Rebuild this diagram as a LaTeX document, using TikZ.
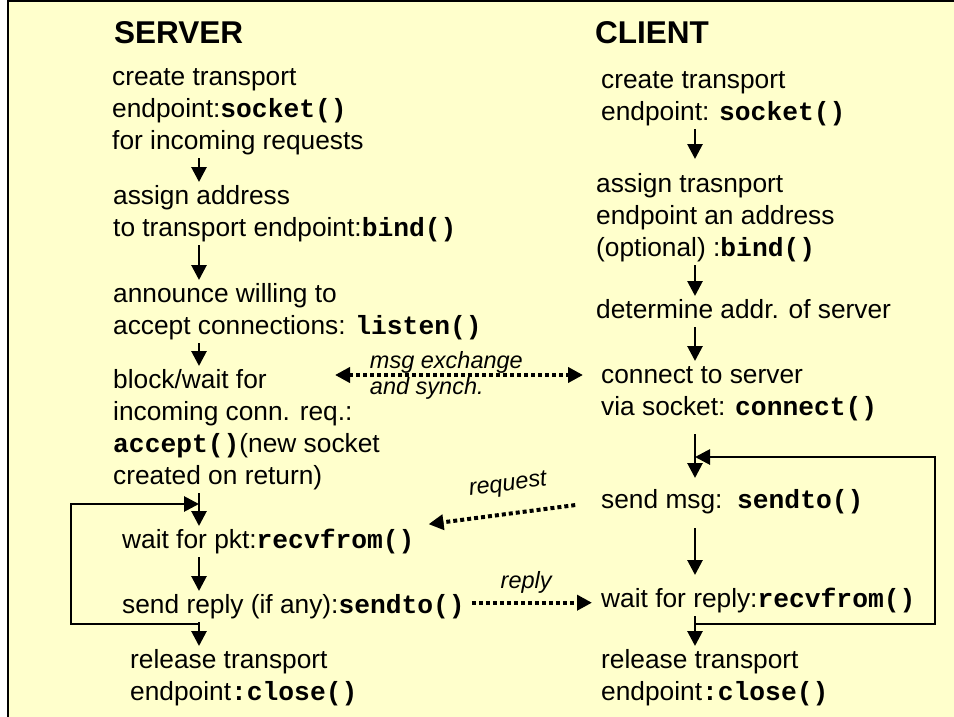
\documentclass[tikz,border=0pt]{standalone}
\usepackage{fontspec}
\setmainfont{Liberation Sans}
\newfontfamily\codefont{Liberation Mono}
\usetikzlibrary{arrows.meta,positioning}
\definecolor{paper}{RGB}{255,255,204}
\newcommand{\fcall}[1]{{\codefont\bfseries #1}}
\newcommand{\upstrut}{\rule{0pt}{22pt}}
\newcommand{\downstrut}{\rule[-9pt]{0pt}{9pt}}

\begin{document}
\begin{tikzpicture}[
  x=1pt, y=-1pt,
  >={Triangle[length=15pt,width=15pt]},
  stage/.style={anchor=north west, inner sep=0pt, align=left, font=\fontsize{26.3}{32}\selectfont},
  head/.style={anchor=base west, inner sep=0pt, font=\fontsize{31.5}{36}\selectfont\bfseries},
  flow/.style={->, line width=2.8pt},
  msg/.style={->, line width=4pt, dash pattern=on 4pt off 3pt},
  lbl/.style={inner sep=0pt, align=left, font=\fontsize{23.5}{26}\selectfont\itshape},
]
\useasboundingbox (0,0) rectangle (954,717);

% Slide frame (cut off at right and bottom)
\begin{scope}
  \clip (0,0) rectangle (954,717);
  \draw[line width=2.5pt, fill=paper] (8,1.25) rectangle (980,740);
\end{scope}

% Columns for the down arrows and the loops
\coordinate (scol)  at (199,0);
\coordinate (ccol)  at (695,0);
\coordinate (sback) at (71,0);
\coordinate (cback) at (935,0);

% Server side
\node[head]  (srv) at (114,44)  {SERVER};
\node[stage] (s1)  at (112,63)  {\upstrut create transport\\endpoint:\fcall{socket()}\\for incoming requests\downstrut};
\node[stage] (s2)  at (113,182) {\upstrut assign address\\to transport endpoint:\fcall{bind()}\downstrut};
\node[stage] (s3)  at (113,280) {\upstrut announce willing to\\accept connections: \fcall{listen()}\downstrut};
\node[stage] (s4)  at (113,366) {\upstrut block/wait for\\incoming conn. req.:\\\fcall{accept()}(new socket\\created on return)\downstrut};
\node[stage] (s5)  at (122,526) {\upstrut wait for pkt:\fcall{recvfrom()}\downstrut};
\node[stage] (s6)  at (122,591) {\upstrut send reply (if any):\fcall{sendto()}\downstrut};
\node[stage] (s7)  at (130,646) {\upstrut release transport\\endpoint\fcall{:close()}\downstrut};

% Client side
\node[head]  (cli) at (595,44)  {CLIENT};
\node[stage] (c1)  at (601,66)  {\upstrut create transport\\endpoint: \fcall{socket()}\downstrut};
\node[stage] (c2)  at (596,170) {\upstrut assign trasnport\\endpoint an address\\(optional) :\fcall{bind()}\downstrut};
\node[stage] (c3)  at (596,296) {\upstrut determine addr. of server\downstrut};
\node[stage] (c4)  at (601,361) {\upstrut connect to server\\via socket: \fcall{connect()}\downstrut};
\node[stage] (c5)  at (601,486) {\upstrut send msg:~~\fcall{sendto()}\downstrut};
\node[stage] (c6)  at (601,585) {\upstrut wait for reply:\fcall{recvfrom()}\downstrut};
\node[stage] (c7)  at (601,646) {\upstrut release transport\\endpoint\fcall{:close()}\downstrut};

% Server steps top-down
\draw[flow] (s1.south -| scol) -- (s2.north -| scol);
\draw[flow] (s2.south -| scol) -- (s3.north -| scol);
\draw[flow] (s3.south -| scol) -- (s4.north -| scol);
\draw[flow] (s4.south -| scol) -- (s5.north -| scol);
\draw[flow] (s5.south -| scol) -- (s6.north -| scol);
\draw[flow] (s6.south -| scol) -- (s7.north -| scol);

% Client steps top-down
\draw[flow, shorten >=11pt] (c1.south -| ccol) -- (c2.north -| ccol);
\draw[flow] (c2.south -| ccol) -- (c3.north -| ccol);
\draw[flow] (c3.south -| ccol) -- (c4.north -| ccol);
\draw[flow, shorten <=10pt, shorten >=8pt] (c4.south -| ccol) -- (c5.north -| ccol);
\draw[flow, shorten <=11pt, shorten >=10pt] (c5.south -| ccol) -- (c6.north -| ccol);
\draw[flow] (c6.south -| ccol) -- (c7.north -| ccol);

% Loops back
\coordinate (sloopout) at (199,624);
\coordinate (sloopin)  at (199,504);
\draw[flow] (sloopout) -- (sloopout -| sback) |- (sloopin);
\coordinate (cloopout) at (695,624);
\coordinate (cloopin)  at (695,457);
\draw[flow] (cloopout) -- (cloopout -| cback) |- (cloopin);

% Messages between the two sides
\coordinate (xchgL) at (335,375);
\coordinate (xchgR) at (583,375);
\draw[msg, <->] (xchgL) -- node[lbl, pos=0.133, anchor=west] {msg exchange\\and synch.} (xchgR);
\draw[msg, shorten <=26pt, shorten >=14pt] (c5.west) -- node[lbl, pos=0.48, sloped, above=16pt] {request} (s5.north east);
\draw[msg, shorten <=7pt, shorten >=9pt] ([yshift=4pt]s6.east) -- node[lbl, pos=0.45, above=7pt] {reply} ([yshift=-2pt]c6.west);

\end{tikzpicture}
\end{document}
